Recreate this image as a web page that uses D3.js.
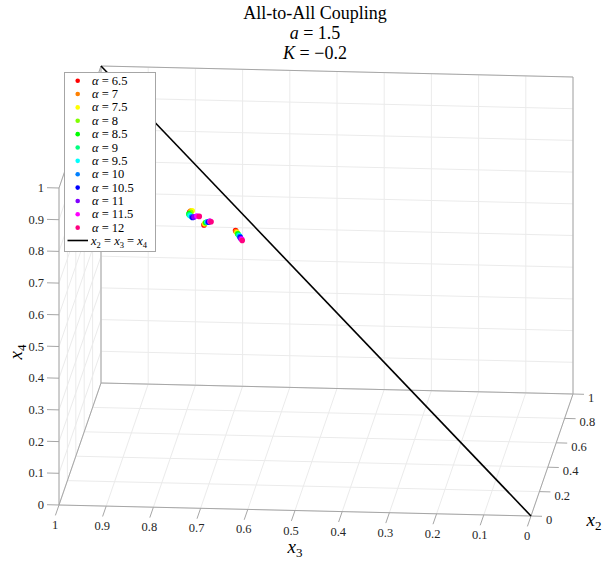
<!DOCTYPE html>
<html><head><meta charset="utf-8">
<script src="https://cdn.jsdelivr.net/npm/d3@7"></script>
<style>
body{margin:0;background:#fff;}
svg{display:block;}
svg text{font-family:"Liberation Serif","DejaVu Serif","Times New Roman",serif;}
</style></head>
<body><svg id="c" width="611" height="561" font-family="Liberation Serif, DejaVu Serif, serif"></svg>
<script>
// ---- data ----
const alphas = [6.5, 7, 7.5, 8, 8.5, 9, 9.5, 10, 10.5, 11, 11.5, 12];
const colors = ["#ff0000","#ff8000","#ffff00","#80ff00","#00ff00","#00ff80","#00ffff","#0080ff","#0000ff","#8000ff","#ff00ff","#ff0080"];
// three points per alpha: [cluster A, cluster B, cluster C]
const x2Vals = [
 [0.35,0.35,0.35],[0.35,0.35,0.35],[0.35,0.35,0.35],[0.35,0.35,0.35],
 [0.35,0.35,0.35],[0.35,0.35,0.35],[0.35,0.35,0.35],[0.35,0.35,0.35],
 [0.35,0.35,0.35],[0.35,0.35,0.35],[0.35,0.35,0.35],[0.35,0.35,0.35]];
const x3Vals = [
 [0.754,0.724,0.657],[0.752,0.723,0.656],[0.749,0.722,0.654],[0.752,0.721,0.653],
 [0.756,0.720,0.652],[0.755,0.718,0.651],[0.753,0.717,0.649],[0.750,0.716,0.648],
 [0.748,0.714,0.647],[0.745,0.712,0.646],[0.739,0.711,0.644],[0.734,0.709,0.643]];
const x4Vals = [
 [0.798,0.758,0.743],[0.801,0.761,0.740],[0.802,0.763,0.737],[0.797,0.765,0.734],
 [0.792,0.766,0.732],[0.789,0.768,0.729],[0.786,0.768,0.727],[0.783,0.768,0.724],
 [0.781,0.768,0.721],[0.783,0.770,0.718],[0.786,0.770,0.716],[0.785,0.769,0.712]];
const syncLine = [0, 1]; // x2 = x3 = x4
const x4Ticks = [0,0.1,0.2,0.3,0.4,0.5,0.6,0.7,0.8,0.9,1];
const x3Ticks = [0,0.1,0.2,0.3,0.4,0.5,0.6,0.7,0.8,0.9,1];
const x2Ticks = [0,0.2,0.4,0.6,0.8,1];
const titleLines = ["All-to-All Coupling", "a = 1.5", "K = −0.2"];

// ---- projection built from linear scales ----
const ox = 531, oy = 516;
const x3sx = d3.scaleLinear().domain([0,1]).range([0,-472]);
const x3sy = d3.scaleLinear().domain([0,1]).range([0,-11]);
const x2sx = d3.scaleLinear().domain([0,1]).range([0,42]);
const x2sy = d3.scaleLinear().domain([0,1]).range([0,-122]);
const x4sy = d3.scaleLinear().domain([0,1]).range([0,-317]);
function P(x2,x3,x4){ return [ox + x3sx(x3) + x2sx(x2), oy + x3sy(x3) + x2sy(x2) + x4sy(x4)]; }

const svg = d3.select("#c");
const FF = "Liberation Serif, DejaVu Serif, serif";
const gridC = "#ebebeb", boxC = "#a6a6a6";
const lineGen = d3.line();
function seg(g, a, b, col, w){
  g.append("path").attr("d", lineGen([P(...a), P(...b)])).attr("stroke", col).attr("stroke-width", w||1).attr("fill","none");
}
const grid = svg.append("g");
// back wall x2 = 1
x3Ticks.forEach(t=>seg(grid,[1,t,0],[1,t,1],gridC));
x4Ticks.forEach(t=>seg(grid,[1,0,t],[1,1,t],gridC));
// left wall x3 = 1
x2Ticks.forEach(t=>seg(grid,[t,1,0],[t,1,1],gridC));
x4Ticks.forEach(t=>seg(grid,[0,1,t],[1,1,t],gridC));
// floor x4 = 0
x3Ticks.forEach(t=>seg(grid,[0,t,0],[1,t,0],gridC));
x2Ticks.forEach(t=>seg(grid,[t,0,0],[t,1,0],gridC));

// box edges (back) and axes   [x2,x3,x4]
const box = svg.append("g");
[[[0,1,0],[0,1,1]], [[0,0,0],[0,1,0]], [[0,0,0],[1,0,0]],
 [[1,0,0],[1,1,0]], [[1,0,1],[1,1,1]], [[1,0,0],[1,0,1]], [[1,1,0],[1,1,1]],
 [[0,1,1],[1,1,1]], [[0,1,0],[1,1,0]]].forEach(e=>seg(box,e[0],e[1],boxC,1));

// ticks
const tk = svg.append("g").attr("font-size", 12.5).attr("fill","#262626").attr("font-family",FF);
x4Ticks.forEach(t=>{
  const p = P(0,1,t);
  tk.append("line").attr("x1",p[0]).attr("y1",p[1]).attr("x2",p[0]-12).attr("y2",p[1]-0.3).attr("stroke",boxC);
  tk.append("text").attr("x",p[0]-15).attr("y",p[1]+4).attr("text-anchor","end").text(d3.format("~g")(t));
});
x3Ticks.forEach(t=>{
  const p = P(0,t,0);
  tk.append("line").attr("x1",p[0]).attr("y1",p[1]).attr("x2",p[0]-3.6).attr("y2",p[1]+10.4).attr("stroke",boxC);
  tk.append("text").attr("x",p[0]-4).attr("y",p[1]+24).attr("text-anchor","middle").text(d3.format("~g")(t));
});
x2Ticks.forEach(t=>{
  const p = P(t,0,0);
  tk.append("line").attr("x1",p[0]).attr("y1",p[1]).attr("x2",p[0]+11).attr("y2",p[1]+0.3).attr("stroke",boxC);
  tk.append("text").attr("x",p[0]+15).attr("y",p[1]+8).attr("text-anchor","start").text(d3.format("~g")(t));
});

// axis labels
function mathLabel(g, x, y, sub, rot){
  const t = g.append("text").attr("x",x).attr("y",y).attr("font-size",19).attr("font-style","italic").attr("text-anchor","middle").attr("font-family",FF);
  if(rot) t.attr("transform",`rotate(-90,${x},${y})`);
  t.append("tspan").text("x");
  t.append("tspan").attr("font-size",13).attr("font-style","normal").attr("dy",4).text(sub);
}
mathLabel(svg, 295, 553, "3");
mathLabel(svg, 594, 526, "2");
mathLabel(svg, 22, 352, "4", true);

// points
const pts = svg.append("g");
alphas.forEach((a,i)=>{
  x2Vals[i].forEach((_,j)=>{
    const p = P(x2Vals[i][j], x3Vals[i][j], x4Vals[i][j]);
    pts.append("circle").attr("cx",p[0]).attr("cy",p[1]).attr("r",2.8).attr("fill",colors[i]);
  });
});
// sync line
svg.append("path").attr("d", lineGen(syncLine.map(t=>P(t,t,t)))).attr("stroke","#000").attr("stroke-width",1.6).attr("fill","none");

// title
const tt = svg.append("g").attr("font-size",18).attr("text-anchor","middle").attr("fill","#000").attr("font-family",FF);
tt.append("text").attr("x",315).attr("y",19).text(titleLines[0]);
const t2 = tt.append("text").attr("x",315).attr("y",39);
t2.append("tspan").attr("font-style","italic").text("a");
t2.append("tspan").text(titleLines[1].slice(1));
const t3 = tt.append("text").attr("x",315).attr("y",59);
t3.append("tspan").attr("font-style","italic").text("K");
t3.append("tspan").text(titleLines[2].slice(1));

// legend
const lg = svg.append("g").attr("font-family",FF);
lg.append("rect").attr("x",64.5).attr("y",72.5).attr("width",91).attr("height",179).attr("fill","#fff").attr("stroke","#a6a6a6");
alphas.forEach((a,i)=>{
  const y = 80.7 + i*13.36;
  lg.append("circle").attr("cx",77.7).attr("cy",y).attr("r",2.3).attr("fill",colors[i]);
  const tx = lg.append("text").attr("x",92).attr("y",y+4).attr("font-size",12.5);
  tx.append("tspan").attr("font-style","italic").text("α");
  tx.append("tspan").text(" = " + a);
});
const ly = 240.5;
lg.append("line").attr("x1",67.5).attr("x2",88).attr("y1",ly).attr("y2",ly).attr("stroke","#000").attr("stroke-width",1.6);
const lt = lg.append("text").attr("x",91).attr("y",ly+4).attr("font-size",12.5);
["2","3","4"].forEach((s,k)=>{
  lt.append("tspan").attr("font-style","italic").text("x");
  lt.append("tspan").attr("font-size",8.5).attr("dy",3).text(s);
  lt.append("tspan").attr("dy",-3).text(k<2?" = ":"");
});
</script></body></html>
